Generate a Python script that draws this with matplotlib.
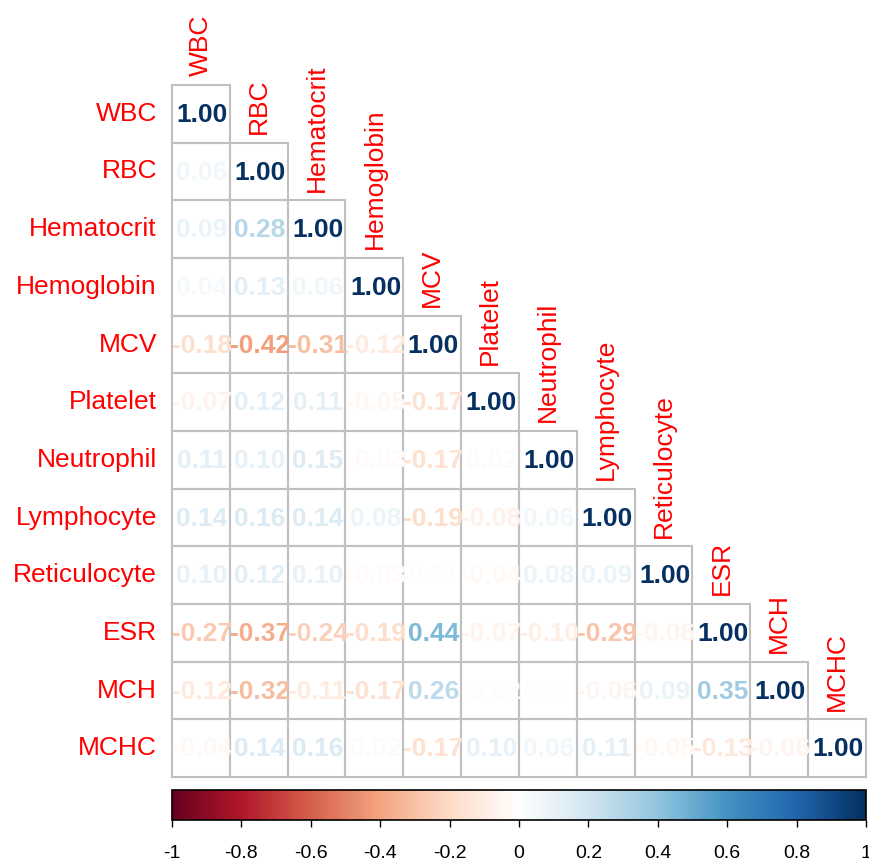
import numpy as np
import matplotlib
matplotlib.use("Agg")
import matplotlib.pyplot as plt
from matplotlib.colors import LinearSegmentedColormap, Normalize
from matplotlib.patches import Rectangle
from matplotlib.colorbar import ColorbarBase

plt.rcParams['font.family'] = ['Liberation Sans', 'DejaVu Sans']

labels = ['WBC', 'RBC', 'Hematocrit', 'Hemoglobin', 'MCV', 'Platelet',
          'Neutrophil', 'Lymphocyte', 'Reticulocyte', 'ESR', 'MCH', 'MCHC']

# lower triangle rows (without the diagonal 1.00)
rows = [
    [],
    [0.06],
    [0.09, 0.28],
    [0.04, 0.13, 0.06],
    [-0.18, -0.42, -0.31, -0.12],
    [-0.07, 0.12, 0.11, -0.05, -0.17],
    [0.11, 0.10, 0.15, -0.03, -0.17, 0.02],
    [0.14, 0.16, 0.14, 0.08, -0.19, -0.08, 0.06],
    [0.10, 0.12, 0.10, -0.03, 0.01, -0.04, 0.08, 0.09],
    [-0.27, -0.37, -0.24, -0.19, 0.44, -0.07, -0.10, -0.29, -0.06],
    [-0.12, -0.32, -0.11, -0.17, 0.26, -0.02, 0.00, -0.06, 0.09, 0.35],
    [-0.04, 0.14, 0.16, 0.02, -0.17, 0.10, 0.06, 0.11, -0.05, -0.13, -0.06],
]

n = len(labels)
corr = np.eye(n)
for i, r in enumerate(rows):
    for j, v in enumerate(r):
        corr[i, j] = v
        corr[j, i] = v

# corrplot's RdBu palette
cmap = LinearSegmentedColormap.from_list('col2', [
    "#67001F", "#B2182B", "#D6604D", "#F4A582", "#FDDBC7", "#FFFFFF",
    "#D1E5F0", "#92C5DE", "#4393C3", "#2166AC", "#053061"], N=200)
norm = Normalize(-1, 1)

W, H = 870, 866
fig = plt.figure(figsize=(W / 100, H / 100), dpi=100)

x0, x1, y0, y1 = 172, 866, 85, 777
ax = fig.add_axes([x0 / W, 1 - y1 / H, (x1 - x0) / W, (y1 - y0) / H])
ax.set_xlim(0, n)
ax.set_ylim(n, 0)
ax.axis('off')

for i in range(n):
    for j in range(i + 1):
        ax.add_patch(Rectangle((j, i), 1, 1, fill=False, edgecolor='#C0C0C0',
                               lw=1.5, clip_on=False))
        v = corr[i, j]
        ax.text(j + 0.52, i + 0.52, f'{v:.2f}', ha='center', va='center',
                fontsize=19, fontweight='bold', color=cmap(norm(v)))

# row labels and column labels above the diagonal cell
for i, lab in enumerate(labels):
    ax.text(-0.26, i + 0.5, lab, ha='right', va='center', fontsize=19,
            color='#FF0000')
    ax.text(i + 0.5, i - 0.15, lab, ha='center', va='bottom', rotation=90,
            fontsize=19, color='#FF0000')

# colour bar
cax = fig.add_axes([x0 / W, 1 - 820 / H, (x1 - x0) / W, 30 / H])
cb = ColorbarBase(cax, cmap=cmap, norm=norm, orientation='horizontal',
                  ticks=np.round(np.arange(-1, 1.01, 0.2), 1))
cb.outline.set_linewidth(1.2)
cb.set_ticklabels(['-1', '-0.8', '-0.6', '-0.4', '-0.2', '0', '0.2', '0.4',
                   '0.6', '0.8', '1'])
cax.tick_params(axis='x', length=5, width=1, pad=13, labelsize=14)

fig.savefig('out.png', dpi=100)
